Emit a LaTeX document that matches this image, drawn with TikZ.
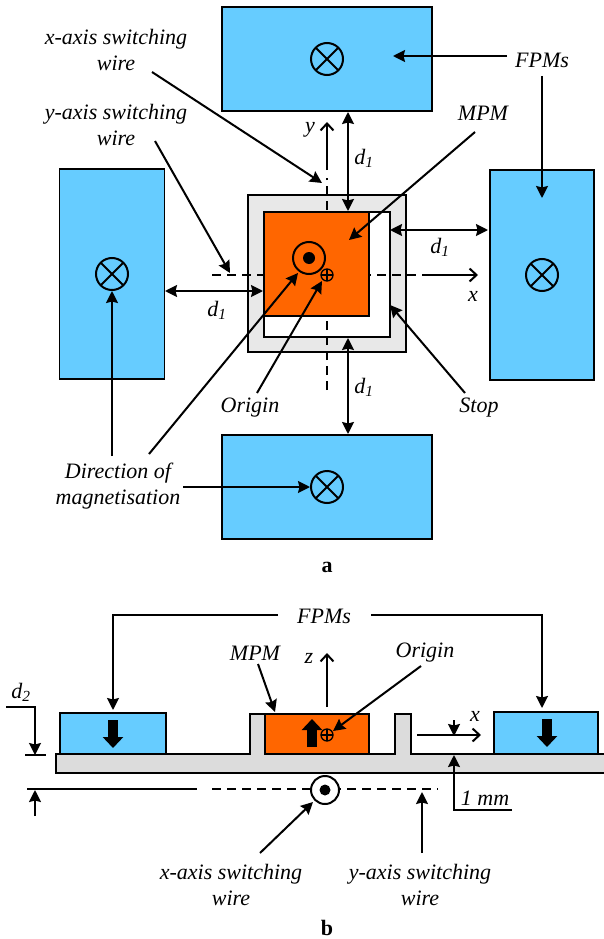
\documentclass[tikz,border=0pt]{standalone}
\usepackage{fontspec}
\setmainfont{Liberation Serif}
\usetikzlibrary{positioning,arrows.meta}
\definecolor{fpmblue}{HTML}{66CCFF}
\definecolor{mpmorange}{HTML}{FF6600}
\definecolor{stopgray}{HTML}{E8E8E8}
\definecolor{basegray}{HTML}{DCDCDC}
\tikzset{
  lbl/.style={font=\fontsize{22}{26}\selectfont\itshape, inner sep=0pt, align=center},
  figlabel/.style={font=\fontsize{22}{24}\selectfont\bfseries, inner sep=0pt},
  fpm/.style={draw=black, line width=1.8pt, fill=fpmblue, inner sep=0pt},
  lead/.style={line width=2pt, -{Stealth[length=12pt, width=12pt, inset=1.5pt]}},
  dbl/.style={line width=2pt, {Stealth[length=12pt, width=12pt, inset=1.5pt]}-{Stealth[length=12pt, width=12pt, inset=1.5pt]}},
  plainline/.style={line width=2pt},
  axisline/.style={line width=1.8pt, dash pattern=on 9pt off 6pt},
  openhead/.style={line width=2pt, -{Straight Barb[length=7pt, width=13pt]}},
  blockarrow/.style={line width=10pt, -{Stealth[length=11pt, width=20pt, inset=0pt]}},
  crossc/.style={circle, draw=black, line width=2pt, inner sep=0pt, minimum size=32pt,
    path picture={\draw[line width=2pt] (path picture bounding box.north west) -- (path picture bounding box.south east)
      (path picture bounding box.north east) -- (path picture bounding box.south west);}},
  origc/.style={circle, draw=black, line width=1.3pt, inner sep=0pt, minimum size=12pt,
    path picture={\draw[line width=1.3pt] (path picture bounding box.north) -- (path picture bounding box.south)
      (path picture bounding box.east) -- (path picture bounding box.west);}},
  ringc/.style={circle, draw=black, line width=2pt, inner sep=0pt},
  dotc/.style={circle, fill=black, inner sep=0pt},
}
\begin{document}
\begin{tikzpicture}[x=1pt, y=-1pt]
  \useasboundingbox (0,0) rectangle (604,939);
  \clip (0,0) rectangle (604,939);

  \node[fpm, minimum width=210pt, minimum height=104pt] (fpmtop) at (327,59) {};
  \node[fpm, minimum width=210pt, minimum height=104pt] (fpmbot) at (327,487) {};
  \node[fpm, minimum width=105pt, minimum height=210pt] (fpmleft) at (112,274) {};
  \node[fpm, minimum width=104pt, minimum height=210pt] (fpmright) at (542,275) {};
  \node[crossc] (xtop) at (327,59) {};
  \node[crossc] (xbot) at (327,487) {};
  \node[crossc] (xleft) at (112,274) {};
  \node[crossc] (xright) at (542,275) {};

  \node[draw=black, line width=1.8pt, fill=stopgray, minimum width=158pt, minimum height=157pt] (stop) at (327,273.5) {};
  \node[draw=black, line width=1.8pt, fill=white, minimum width=126pt, minimum height=125pt] (stopin) at (327,274.5) {};

  \coordinate (ytail) at (327,390);
  \coordinate (ydash) at (327,178);
  \coordinate (ygap) at (327,170);
  \coordinate (yhead) at (327,122);
  \coordinate (xtail) at (212,275);
  \coordinate (xgap) at (430,275);
  \coordinate (xhead) at (478,275);
  \draw[axisline] (ytail) -- (ydash);
  \draw[axisline] (xtail) -- (xgap);
  \draw[openhead] (ygap) -- (yhead);
  \draw[openhead] (xgap) -- (xhead);

  \node[draw=black, line width=1.8pt, fill=mpmorange, minimum width=105pt, minimum height=104pt] (mpm) at (316.5,264) {};
  \node[ringc, minimum size=32pt] (ring) at (309,258) {};
  \node[dotc, minimum size=12pt] (ringdot) at (309,258) {};
  \node[origc] (orig) at (327,275) {};

  \node[lbl] (ylab) at (310,130) {y};
  \node[lbl] (xlab) at (473,296) {x};

  \coordinate (dta) at (348,112);
  \coordinate (dtb) at (348,211);
  \coordinate (dra) at (390,230);
  \coordinate (drb) at (488,230);
  \coordinate (dla) at (165,291);
  \coordinate (dlb) at (263,291);
  \coordinate (dba) at (348,338);
  \coordinate (dbb) at (348,434);
  \draw[dbl] (dta) -- (dtb);
  \draw[dbl] (dra) -- (drb);
  \draw[dbl] (dla) -- (dlb);
  \draw[dbl] (dba) -- (dbb);
  \node[lbl] (d1t) at (364,158) {d\textsubscript{1}};
  \node[lbl] (d1r) at (440,247) {d\textsubscript{1}};
  \node[lbl] (d1l) at (217,310) {d\textsubscript{1}};
  \node[lbl] (d1b) at (364,387) {d\textsubscript{1}};

  \node[lbl] (xwire) at (116,50) {x-axis switching\\wire};
  \node[lbl] (ywire) at (116,125) {y-axis switching\\wire};
  \node[lbl] (fpmlab) at (542,60) {FPMs};
  \node[lbl] (mpmlab) at (483,113) {MPM};
  \node[lbl] (dirlab) at (118,486) {Direction of\\magnetisation};
  \node[lbl] (origlab) at (250,408) {Origin};
  \node[lbl] (stoplab) at (479,408) {Stop};
  \node[figlabel] (capa) at (327,567) {a};

  \coordinate (xwa) at (152,72);
  \coordinate (xwb) at (322,183);
  \coordinate (ywa) at (155,141);
  \coordinate (ywb) at (230,273);
  \coordinate (fa) at (507,56);
  \coordinate (fb) at (393,56);
  \coordinate (fc) at (542,76);
  \coordinate (fd) at (542,198);
  \coordinate (ma) at (475,132);
  \coordinate (mb) at (349,240);
  \coordinate (da) at (112,456);
  \coordinate (db) at (112,291);
  \coordinate (dc) at (183,487);
  \coordinate (dd) at (310,487);
  \coordinate (de) at (149,454);
  \coordinate (df) at (298,273);
  \coordinate (oa) at (257,393);
  \coordinate (ob) at (322,281);
  \coordinate (sa) at (465,393);
  \coordinate (sb) at (390,305);
  \draw[lead] (xwa) -- (xwb);
  \draw[lead] (ywa) -- (ywb);
  \draw[lead] (fa) -- (fb);
  \draw[lead] (fc) -- (fd);
  \draw[lead] (ma) -- (mb);
  \draw[lead] (da) -- (db);
  \draw[lead] (dc) -- (dd);
  \draw[lead] (de) -- (df);
  \draw[lead] (oa) -- (ob);
  \draw[lead] (sa) -- (sb);

  \draw[draw=black, line width=1.8pt, fill=basegray] (56,754) -- (250,754) -- (250,714) -- (265,714) -- (265,754) -- (395,754) -- (395,714) -- (411,714) -- (411,754) -- (610,754) -- (610,773) -- (56,773) -- cycle;
  \node[fpm, minimum width=106pt, minimum height=41pt] (fpmsl) at (113,733.5) {};
  \node[fpm, minimum width=104pt, minimum height=42pt] (fpmsr) at (546,733) {};
  \node[draw=black, line width=1.8pt, fill=mpmorange, minimum width=104pt, minimum height=40pt] (mpms) at (317,734) {};
  \node[origc] (origs) at (327,735) {};

  \coordinate (la) at (113,720);
  \coordinate (lb) at (113,748);
  \coordinate (ra) at (547,719);
  \coordinate (rb) at (547,747);
  \coordinate (ua) at (312,747);
  \coordinate (ub) at (312,719);
  \draw[blockarrow] (la) -- (lb);
  \draw[blockarrow] (ra) -- (rb);
  \draw[blockarrow] (ua) -- (ub);

  \node[lbl] (fpmsb) at (324,616) {FPMs};
  \node[lbl] (mpmb) at (255,653) {MPM};
  \node[lbl] (origb) at (425,653) {Origin};
  \node[lbl] (zb) at (309,658) {z};
  \node[lbl] (xb) at (475,716) {x};
  \node[lbl] (d2b) at (21,692) {d\textsubscript{2}};
  \node[lbl] (mmlab) at (485,798) {1 mm};
  \node[lbl] (xwb2) at (231,885) {x-axis switching\\wire};
  \node[lbl] (ywb2) at (420,885) {y-axis switching\\wire};
  \node[figlabel] (capb) at (327,928) {b};

  \coordinate (fsl) at (278,615);
  \coordinate (fslc) at (113,615);
  \coordinate (fsld) at (113,710);
  \coordinate (fsr) at (371,615);
  \coordinate (fsrc) at (542,615);
  \coordinate (fsrd) at (542,708);
  \draw[lead] (fsl) -- (fslc) -- (fsld);
  \draw[lead] (fsr) -- (fsrc) -- (fsrd);
  \coordinate (mba) at (258,664);
  \coordinate (mbb) at (275,712);
  \coordinate (oba) at (421,666);
  \coordinate (obb) at (333,731);
  \coordinate (za) at (327,707);
  \coordinate (zc) at (327,653);
  \coordinate (xsa) at (417,735);
  \coordinate (xsb) at (481,735);
  \draw[lead] (mba) -- (mbb);
  \draw[lead] (oba) -- (obb);
  \draw[openhead] (za) -- (zc);
  \draw[openhead] (xsa) -- (xsb);

  \coordinate (mma) at (454,720);
  \coordinate (mmb) at (454,736);
  \coordinate (mmc) at (512,810);
  \coordinate (mmd) at (454,810);
  \coordinate (mme) at (454,755);
  \draw[lead] (mma) -- (mmb);
  \draw[lead] (mmc) -- (mmd) -- (mme);

  \coordinate (dxa) at (6,707);
  \coordinate (dxb) at (35,707);
  \coordinate (dxc) at (35,755);
  \coordinate (dxd) at (25,755);
  \coordinate (dxe) at (46,755);
  \coordinate (dxf) at (35,816);
  \coordinate (dxg) at (35,790);
  \coordinate (dxh) at (27,789);
  \coordinate (dxi) at (197,789);
  \draw[lead] (dxa) -- (dxb) -- (dxc);
  \draw[plainline] (dxd) -- (dxe);
  \draw[lead] (dxf) -- (dxg);
  \draw[plainline] (dxh) -- (dxi);

  \coordinate (wa) at (212,789);
  \coordinate (wb) at (438,789);
  \draw[axisline] (wa) -- (wb);
  \node[ringc, fill=white, minimum size=28pt] (rings) at (325,790) {};
  \node[dotc, minimum size=11pt] (ringsdot) at (325,790) {};
  \coordinate (wxa) at (260,853);
  \coordinate (wxb) at (313,802);
  \coordinate (wya) at (422,853);
  \coordinate (wyb) at (422,792);
  \draw[lead] (wxa) -- (wxb);
  \draw[lead] (wya) -- (wyb);
\end{tikzpicture}
\end{document}
